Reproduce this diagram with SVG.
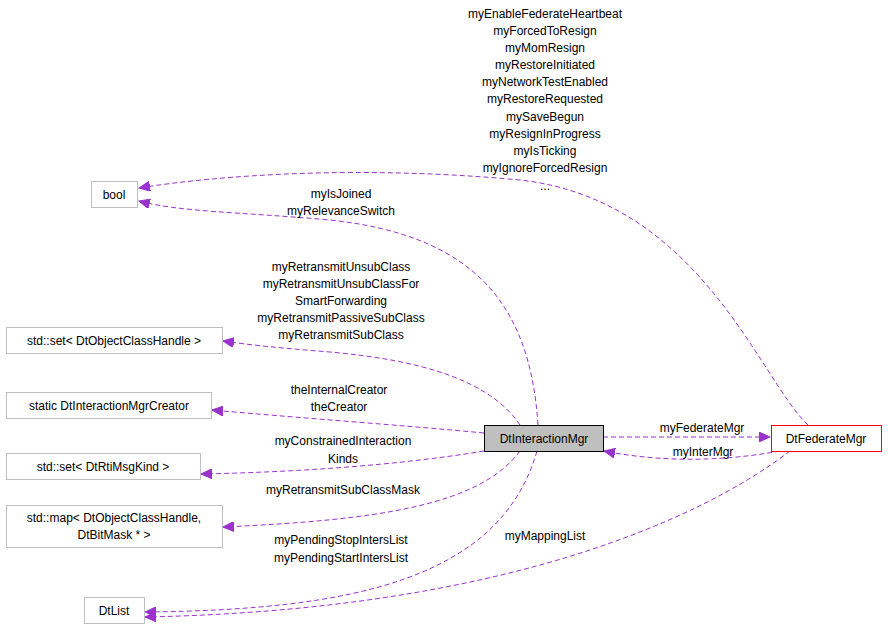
<svg xmlns="http://www.w3.org/2000/svg" width="888" height="628" viewBox="0 0 888 628">
<style>
text{font-family:"Liberation Sans",Arial,sans-serif;font-size:12px;fill:#000}
.n rect{fill:#fff;stroke:#bfbfbf}
.e path{fill:none;stroke:#9a32cd;stroke-dasharray:5,3}
.l{text-anchor:middle}
#fm rect{fill:#fff;stroke:#ff0000}
</style>
<defs><marker id="a" markerWidth="12" markerHeight="10" refX="11" refY="5" orient="auto" markerUnits="userSpaceOnUse"><path d="M0,0 L11,5 L0,10 z" fill="#9a32cd" stroke="#9a32cd"/></marker></defs>
<rect width="888" height="628" fill="#fff"/>
<g class="e">
<path d="M808,425 C760,380 700,200 520,180 C360,165 220,175 139,188" marker-end="url(#a)"/>
<path d="M538,425 C530,300 470,235 330,220 C240,212 180,212 139,201" marker-end="url(#a)"/>
<path d="M520,425 C490,380 420,360 330,352 C280,348 250,345 223,341" marker-end="url(#a)"/>
<path d="M484,433 C400,425 300,418 212,410" marker-end="url(#a)"/>
<path d="M484,451 C400,465 300,472 201,474" marker-end="url(#a)"/>
<path d="M520,451 C480,505 380,520 223,527" marker-end="url(#a)"/>
<path d="M537,451 C500,580 350,610 145,612" marker-end="url(#a)"/>
<path d="M790,451 C700,520 500,610 145,617" marker-end="url(#a)"/>
<path d="M603,437 L770,437" marker-end="url(#a)"/>
<path d="M780,451 C720,462 660,462 604,451" marker-end="url(#a)"/>
</g>
<g class="l">
<text x="545" y="18">myEnableFederateHeartbeat</text>
<text x="545" y="35">myForcedToResign</text>
<text x="545" y="52">myMomResign</text>
<text x="545" y="69">myRestoreInitiated</text>
<text x="545" y="86">myNetworkTestEnabled</text>
<text x="545" y="103">myRestoreRequested</text>
<text x="545" y="121">mySaveBegun</text>
<text x="545" y="138">myResignInProgress</text>
<text x="545" y="155">myIsTicking</text>
<text x="545" y="172">myIgnoreForcedResign</text>
<text x="545" y="190">...</text>
<text x="341" y="198">myIsJoined</text>
<text x="341" y="215">myRelevanceSwitch</text>
<text x="341" y="271">myRetransmitUnsubClass</text>
<text x="341" y="288">myRetransmitUnsubClassFor</text>
<text x="341" y="305">SmartForwarding</text>
<text x="341" y="322">myRetransmitPassiveSubClass</text>
<text x="341" y="339">myRetransmitSubClass</text>
<text x="339" y="394">theInternalCreator</text>
<text x="339" y="411">theCreator</text>
<text x="343" y="445">myConstrainedInteraction</text>
<text x="343" y="463">Kinds</text>
<text x="343" y="494">myRetransmitSubClassMask</text>
<text x="341" y="544">myPendingStopIntersList</text>
<text x="341" y="562">myPendingStartIntersList</text>
<text x="545" y="540">myMappingList</text>
<text x="702" y="432">myFederateMgr</text>
<text x="703" y="456">myInterMgr</text>
</g>
<g id="bool" class="n"><rect x="91.5" y="181.5" width="46" height="26"/><text class="l" x="114" y="199">bool</text></g>
<g id="setoch" class="n"><rect x="6.5" y="327.5" width="216" height="26"/><text class="l" x="114" y="345">std::set&lt; DtObjectClassHandle &gt;</text></g>
<g id="creator" class="n"><rect x="6.5" y="392.5" width="205" height="26"/><text class="l" x="109" y="410">static DtInteractionMgrCreator</text></g>
<g id="setrmk" class="n"><rect x="6.5" y="453.5" width="194" height="26"/><text class="l" x="103" y="471">std::set&lt; DtRtiMsgKind &gt;</text></g>
<g id="map" class="n"><rect x="6.5" y="505.5" width="216" height="42"/><text class="l" x="114" y="522">std::map&lt; DtObjectClassHandle,</text><text class="l" x="114" y="539">DtBitMask * &gt;</text></g>
<g id="dtlist" class="n"><rect x="84.5" y="597.5" width="60" height="26"/><text class="l" x="114" y="615">DtList</text></g>
<g id="im"><rect x="484.5" y="425.5" width="119" height="26" fill="#bfbfbf" stroke="#000"/><text class="l" x="544" y="443">DtInteractionMgr</text></g>
<g id="fm"><rect x="771.5" y="425.5" width="110" height="26" fill="#fff" stroke="#ff0000" style="stroke:#ff0000"/><text class="l" x="826" y="443">DtFederateMgr</text></g>
</svg>
